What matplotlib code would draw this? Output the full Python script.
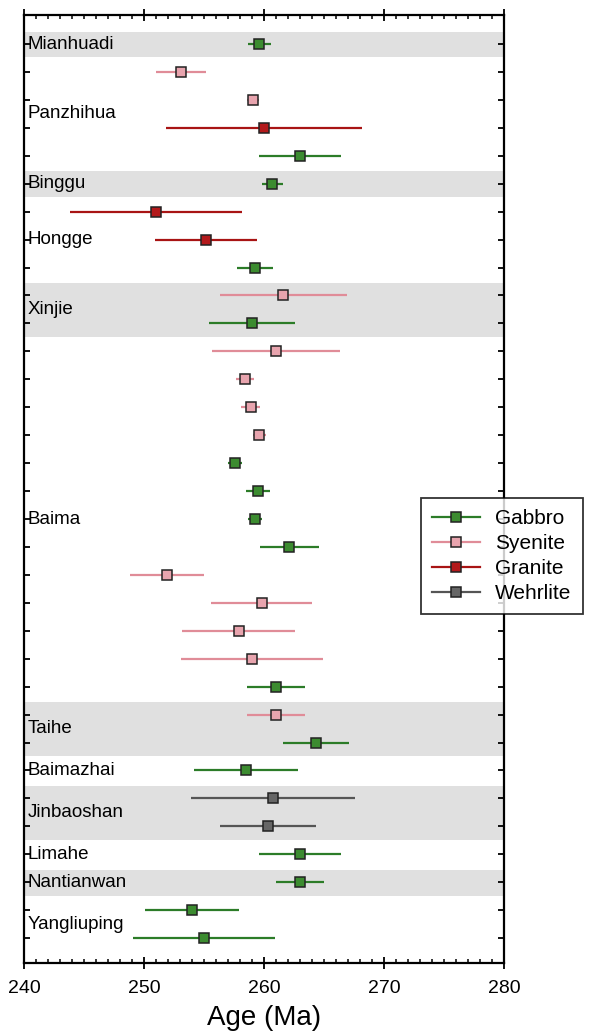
import matplotlib
matplotlib.use('Agg')
import matplotlib.pyplot as plt
from matplotlib.lines import Line2D
import matplotlib.transforms as mtransforms

plt.rcParams['font.family'] = ['Liberation Sans', 'DejaVu Sans']

# One entry per dated sample, top to bottom
rock = ['Gabbro', 'Syenite', 'Syenite', 'Granite', 'Gabbro',
        'Gabbro',
        'Granite', 'Granite', 'Gabbro',
        'Syenite', 'Gabbro',
        'Syenite', 'Syenite', 'Syenite', 'Syenite', 'Gabbro', 'Gabbro', 'Gabbro',
        'Gabbro', 'Syenite', 'Syenite', 'Syenite', 'Syenite', 'Gabbro',
        'Syenite', 'Gabbro',
        'Gabbro',
        'Wehrlite', 'Wehrlite',
        'Gabbro',
        'Gabbro',
        'Gabbro', 'Gabbro']
age = [259.6, 253.1, 259.1, 260.0, 263.0,
       260.7,
       251.0, 255.2, 259.25,
       261.6, 259.0,
       261.0, 258.4, 258.9, 259.6, 257.6, 259.5, 259.25,
       262.1, 251.9, 259.8, 257.9, 259.0, 261.0,
       261.0, 264.3,
       258.5,
       260.75, 260.3,
       263.0,
       263.0,
       254.0, 255.0]
err = [0.95, 2.1, 0.5, 8.15, 3.45,
       0.9,
       7.15, 4.25, 1.5,
       5.3, 3.6,
       5.3, 0.75, 0.8, 0.55, 0.6, 1.0, 0.6,
       2.45, 3.1, 4.2, 4.7, 5.9, 2.4,
       2.4, 2.75,
       4.35,
       6.8, 4.0,
       3.45,
       2.0,
       3.95, 5.95]

# Intrusions: name, first and last sample row (1-based)
group_names = ['Mianhuadi', 'Panzhihua', 'Binggu', 'Hongge', 'Xinjie', 'Baima',
               'Taihe', 'Baimazhai', 'Jinbaoshan', 'Limahe', 'Nantianwan', 'Yangliuping']
group_first = [1, 2, 6, 7, 10, 12, 25, 27, 28, 30, 31, 32]
group_last = [1, 5, 6, 9, 11, 24, 26, 27, 29, 30, 31, 33]

rock_types = ['Gabbro', 'Syenite', 'Granite', 'Wehrlite']
fill_col = {'Gabbro': '#3c8c30', 'Syenite': '#e8a4ae', 'Granite': '#b3191b', 'Wehrlite': '#666666'}
line_col = {'Gabbro': '#2c7c28', 'Syenite': '#e08c98', 'Granite': '#a81414', 'Wehrlite': '#555555'}

fig = plt.figure(figsize=(6.14, 10.33), dpi=100)
ax = fig.add_axes([0.039, 0.0678, 0.782, 0.9177])

rows = list(range(1, len(age) + 1))

# shaded bands for every other intrusion
for i in range(len(group_names)):
    if i % 2 == 0:
        ax.axhspan(group_first[i] - 0.44, group_last[i] + 0.48, color='#e0e0e0', lw=0, zorder=0)

trans = mtransforms.blended_transform_factory(ax.transAxes, ax.transData)
for i, name in enumerate(group_names):
    ymid = (group_first[i] + group_last[i]) / 2
    ax.text(0.008, ymid, name, transform=trans, fontsize=13.5, va='center', ha='left', zorder=3)

handles = []
for r in rock_types:
    ys = [rows[k] for k in range(len(rock)) if rock[k] == r]
    xs = [age[k] for k in range(len(rock)) if rock[k] == r]
    es = [err[k] for k in range(len(rock)) if rock[k] == r]
    ax.errorbar(xs, ys, xerr=es, fmt='s', ms=7.5, mfc=fill_col[r], mec='#222222', mew=1.1,
                ecolor=line_col[r], elinewidth=1.6, capsize=0, zorder=4)
    handles.append(Line2D([], [], color=line_col[r], lw=1.6, marker='s', ms=7.5,
                          mfc=fill_col[r], mec='#222222', mew=1.1, label=r))

ax.set_xlim(240, 280)
ax.set_ylim(33.89, -0.04)
ax.set_yticks(rows)
ax.set_yticklabels([])

ax.set_xticks([240, 250, 260, 270, 280])
ax.set_xticks([245, 255, 265, 275] + [v for v in range(240, 281) if v % 5], minor=True)
ax.tick_params(axis='x', which='major', direction='inout', length=8, width=1.3,
               top=True, bottom=True, labelsize=14, pad=8)
ax.tick_params(axis='x', which='minor', direction='in', length=3, width=1.1, top=True, bottom=True)
ax.tick_params(axis='y', which='major', direction='in', length=4, width=1.3, left=True, right=True)

for s in ax.spines.values():
    s.set_linewidth(1.6)

ax.set_xlabel('Age (Ma)', fontsize=20, labelpad=6)

leg = ax.legend(handles=handles, loc='upper left', bbox_to_anchor=(0.827, 0.4905), borderaxespad=0,
                fontsize=15, frameon=True, fancybox=False, edgecolor='black',
                handlelength=2.3, handletextpad=0.7, labelspacing=0.28, borderpad=0.55)
leg.get_frame().set_linewidth(1.3)
leg.set_zorder(6)

fig.savefig('out.png', dpi=100)
